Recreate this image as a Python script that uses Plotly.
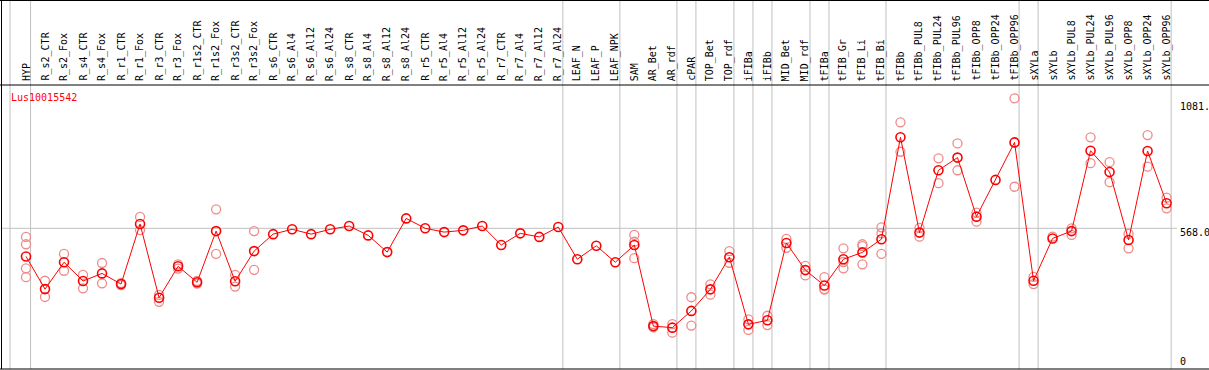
import plotly.graph_objects as go

CATEGORIES = ["HYP", "R_s2_CTR", "R_s2_Fox", "R_s4_CTR", "R_s4_Fox", "R_r1_CTR", "R_r1_Fox",
              "R_r3_CTR", "R_r3_Fox", "R_r1s2_CTR", "R_r1s2_Fox", "R_r3s2_CTR", "R_r3s2_Fox",
              "R_s6_CTR", "R_s6_Al4", "R_s6_Al12", "R_s6_Al24", "R_s8_CTR", "R_s8_Al4", "R_s8_Al12",
              "R_s8_Al24", "R_r5_CTR", "R_r5_Al4", "R_r5_Al12", "R_r5_Al24", "R_r7_CTR", "R_r7_Al4",
              "R_r7_Al12", "R_r7_Al24", "LEAF_N", "LEAF_P", "LEAF_NPK", "SAM", "AR_Bet", "AR_rdf",
              "cPAR", "TOP_Bet", "TOP_rdf", "iFIBa", "iFIBb", "MID_Bet", "MID_rdf", "tFIBa",
              "tFIB_Gr", "tFIB_Li", "tFIB_Bi", "tFIBb", "tFIBb_PUL8", "tFIBb_PUL24", "tFIBb_PUL96",
              "tFIBb_OPP8", "tFIBb_OPP24", "tFIBb_OPP96", "sXYLa", "sXYLb", "sXYLb_PUL8",
              "sXYLb_PUL24", "sXYLb_PUL96", "sXYLb_OPP8", "sXYLb_OPP24", "sXYLb_OPP96"]

MEANS = [457, 328, 434, 360, 390, 348, 585, 294, 418, 355, 557, 359, 478,
         545, 564, 545, 564, 577, 540, 474, 607, 568, 553, 560, 577, 502, 548, 534, 573,
         446, 499, 434, 502, 182, 176, 242, 327, 454, 189, 205, 510, 403, 342,
         446, 473, 525, 927, 551, 797, 847, 614, 759, 907, 361, 528, 557, 874, 790, 522, 873, 667]

REPLICATES = [
    [534, 505, 410, 375], [361, 297], [467, 400], [384, 331], [431, 351], [352, 344], [613, 561],
    [305, 278], [426, 409], [360, 350], [643, 467], [384, 338], [557, 404],
    [], [], [], [], [], [], [], [], [], [], [], [], [], [], [], [],
    [], [], [], [542, 515, 450], [190, 177], [190, 156],
    [296, 184], [347, 306], [478, 432], [209, 167], [223, 186], [526, 491], [420, 382],
    [375, 327, 327],
    [489, 435, 410], [505, 498, 426], [572, 548, 467], [986, 870], [570, 535], [844, 746],
    [903, 797], [630, 594], [], [1081, 732], [376, 348], [535], [568, 542],
    [927, 825], [829, 750], [546, 489], [936, 811], [689, 647]]

GENE = "Lus10015542"
TICK_LABELS = ["1081.", "568.0", "0"]
GRID_VALUE = 568
SEPARATORS_AFTER = [0, 28, 31, 34, 35, 37, 38, 39, 41, 42, 45, 52, 53, 60]

W, H = 1209, 370
L, R, T, B = 1, 1, 85, 1
PW, PH = W - L - R, H - T - B
X0PX, DX = 26, 19.01
xr = [(L - X0PX) / DX, (L + PW - X0PX) / DX]
V_PER_PX = 3.946
yr = [GRID_VALUE - (T + PH - 228.3) * V_PER_PX, GRID_VALUE + (228.3 - T) * V_PER_PX]

def py(p):
    return (T + PH - p) / PH

def px(p):
    return (p - L) / PW

rx, ry = [], []
for i, reps in enumerate(REPLICATES):
    for v in reps:
        rx.append(i)
        ry.append(v)

FONT = "DejaVu Sans Mono"
fig = go.Figure()
fig.add_trace(go.Scatter(x=rx, y=ry, mode="markers",
                         marker=dict(symbol="circle-open", size=9, color="#ef8a8a",
                                     line=dict(width=1.3, color="#ef8a8a")),
                         hoverinfo="skip", showlegend=False))
fig.add_trace(go.Scatter(x=list(range(len(CATEGORIES))), y=MEANS, mode="lines+markers",
                         line=dict(color="#ff0000", width=1),
                         marker=dict(symbol="circle-open", size=9, color="#ff0000",
                                     line=dict(width=1.6, color="#ff0000")),
                         showlegend=False))

shapes = []
sep_x = [-0.84] + [s + 0.24 for s in SEPARATORS_AFTER]
for sx in sep_x:
    shapes.append(dict(type="line", xref="x", yref="paper", x0=sx, x1=sx, y0=0, y1=py(0),
                       line=dict(color="#c0c0c0", width=1), layer="below"))
shapes.append(dict(type="line", xref="paper", yref="y", x0=0, x1=px(1177),
                   y0=GRID_VALUE, y1=GRID_VALUE, line=dict(color="#c0c0c0", width=1), layer="below"))
# frame lines
shapes.append(dict(type="line", xref="paper", yref="paper", x0=px(0), x1=px(W), y0=py(0.5), y1=py(0.5),
                   line=dict(color="black", width=1)))
shapes.append(dict(type="line", xref="paper", yref="paper", x0=px(0), x1=px(W), y0=py(85), y1=py(85),
                   line=dict(color="black", width=1)))
shapes.append(dict(type="line", xref="paper", yref="paper", x0=px(0), x1=px(W), y0=py(369), y1=py(369),
                   line=dict(color="black", width=1)))
shapes.append(dict(type="line", xref="paper", yref="paper", x0=px(1.5), x1=px(1.5), y0=py(0), y1=py(369),
                   line=dict(color="black", width=1)))

annotations = []
for i, name in enumerate(CATEGORIES):
    annotations.append(dict(x=i, xref="x", y=py(83), yref="paper", text=name, textangle=-90,
                            showarrow=False, xanchor="center", yanchor="bottom",
                            font=dict(family=FONT, size=10, color="black")))
annotations.append(dict(x=px(9), y=py(97), xref="paper", yref="paper", text=GENE, showarrow=False,
                        xanchor="left", yanchor="middle", font=dict(family=FONT, size=10, color="#ff0000")))
for lab, ypix in zip(TICK_LABELS, [106.7, 232.3, 361.7]):
    annotations.append(dict(x=px(1178), y=py(ypix), xref="paper", yref="paper", text=lab,
                            showarrow=False, xanchor="left", yanchor="middle",
                            font=dict(family=FONT, size=10, color="black")))

fig.update_layout(width=W, height=H, margin=dict(l=L, r=R, t=T, b=B, pad=0),
                  paper_bgcolor="white", plot_bgcolor="white",
                  xaxis=dict(range=xr, showgrid=False, zeroline=False, showticklabels=False,
                             ticks="", showline=False, fixedrange=True),
                  yaxis=dict(range=yr, showgrid=False, zeroline=False, showticklabels=False,
                             ticks="", showline=False, fixedrange=True),
                  shapes=shapes, annotations=annotations)
fig.write_html("out.html", config={"displayModeBar": False},
               post_script="document.body.style.margin='0';document.body.style.overflow='hidden';")
